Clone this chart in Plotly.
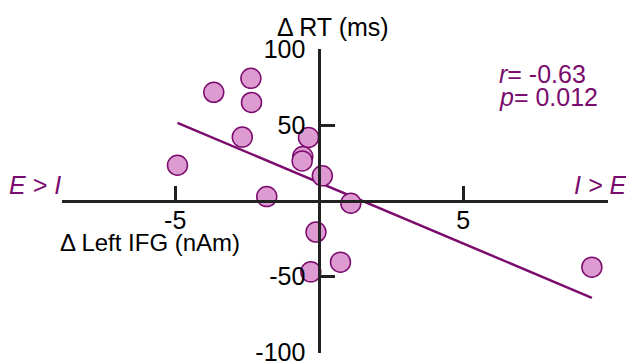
import numpy as np
import plotly.graph_objects as go

# Data
delta_ifg = [-2.37, -3.66, -2.35, -2.67, -4.92, -0.37, -0.57, -0.59, 0.11, 1.10,
             -1.82, -0.11, 0.74, -0.29, 9.47]
delta_rt = [81.0, 71.8, 65.1, 42.2, 23.6, 42.0, 29.4, 26.5, 16.6, -1.5,
            2.9, -20.5, -40.4, -46.8, -43.7]
x_ticks = [-5, 5]
y_ticks = [-100, -50, 50, 100]
r_text = "-0.63"
p_text = "0.012"

x_range = [-8.93, 10.03]
y_range = [-100.4, 100.4]

PURPLE = "#7b0c6e"
FILL = "#de9bd1"
AX = "#222222"
FONT = "Liberation Sans, Arial, sans-serif"

W, H = 626, 363
ML, MR, MT, MB = 62, 18, 49, 10
PW, PH = W - ML - MR, H - MT - MB

slope, intercept = np.polyfit(delta_ifg, delta_rt, 1)
fit_x = [min(delta_ifg), max(delta_ifg)]
fit_y = [slope * v + intercept for v in fit_x]

fig = go.Figure()
fig.add_trace(go.Scatter(x=fit_x, y=fit_y, mode="lines",
                         line=dict(color=PURPLE, width=2.5),
                         hoverinfo="skip", showlegend=False, cliponaxis=False))
fig.add_trace(go.Scatter(x=delta_ifg, y=delta_rt, mode="markers",
                         marker=dict(size=20, color=FILL,
                                     line=dict(color=PURPLE, width=1.5)),
                         showlegend=False, cliponaxis=False))

ypos_frac = (0 - x_range[0]) / (x_range[1] - x_range[0])
xpos_frac = (0 - y_range[0]) / (y_range[1] - y_range[0])


def px_ann(text, px, py, size, color="black", xanchor="center"):
    return dict(text=text, x=(px - ML) / PW, y=(H - py - MB) / PH,
                xref="paper", yref="paper", xanchor=xanchor, yanchor="middle",
                showarrow=False, font=dict(size=size, color=color, family=FONT))


fig.update_layout(
    width=W, height=H, autosize=False,
    margin=dict(l=ML, r=MR, t=MT, b=MB, autoexpand=False),
    plot_bgcolor="white", paper_bgcolor="white",
    font=dict(family=FONT, size=25, color="black"),
    xaxis=dict(range=x_range, anchor="free", position=xpos_frac,
               showline=True, linecolor=AX, linewidth=2.5,
               ticks="inside", ticklen=14, tickwidth=2.5, tickcolor=AX,
               tickvals=x_ticks, ticktext=[str(v) for v in x_ticks],
               showgrid=False, zeroline=False, ticklabelstandoff=-4,
               ticklabeloverflow="allow", automargin=False),
    yaxis=dict(range=y_range, anchor="free", position=ypos_frac,
               showline=True, linecolor=AX, linewidth=2.5,
               ticks="inside", ticklen=14, tickwidth=2.5, tickcolor=AX,
               tickvals=y_ticks, ticktext=[str(v) for v in y_ticks],
               showgrid=False, zeroline=False, ticklabelstandoff=8,
               ticklabeloverflow="allow", automargin=False),
    annotations=[
        px_ann("Δ RT (ms)", 333, 27, 25),
        px_ann("Δ Left IFG (nAm)", 58, 243, 24, xanchor="left"),
        px_ann("<i>r</i>= " + r_text, 497, 74, 25, PURPLE, "left"),
        px_ann("<i>p</i>= " + p_text, 497, 97, 25, PURPLE, "left"),
        px_ann("<i>E > I</i>", 7, 185, 25, PURPLE, "left"),
        px_ann("<i>I > E</i>", 628, 185, 25, PURPLE, "right"),
    ],
)

fig.write_html("out.html", config={"displayModeBar": False},
               post_script="document.body.style.margin='0';"
                           "document.body.style.overflow='hidden';")
